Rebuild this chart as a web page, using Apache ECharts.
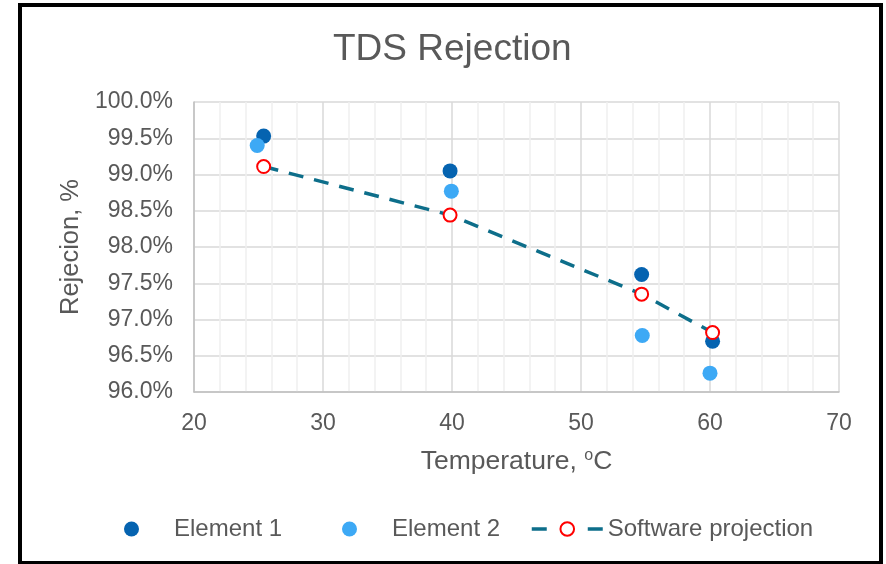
<!DOCTYPE html>
<html>
<head>
<meta charset="utf-8">
<script src="https://cdn.jsdelivr.net/npm/echarts@6/dist/echarts.min.js"></script>
<style>
html,body{margin:0;padding:0;background:#fff;}
#chart{width:886px;height:564px;}
</style>
</head>
<body>
<div id="chart"></div>
<script>
// Data
const element1Temp = [25.4, 39.85, 54.7, 60.2];
const element1Rej  = [99.53, 99.05, 97.62, 96.70];
const element2Temp = [24.9, 39.95, 54.75, 60.0];
const element2Rej  = [99.40, 98.77, 96.78, 96.26];
const softTemp     = [25.4, 39.85, 54.7, 60.2];
const softRej      = [99.11, 98.44, 97.35, 96.82];
const seriesNames  = ['Element 1', 'Element 2', 'Software projection'];

const pairs = (xs, ys) => xs.map((x, i) => [x, ys[i]]);

const txt = '#595959';
const chart = echarts.init(document.getElementById('chart'));
chart.setOption({
  animation: false,
  backgroundColor: '#fff',
  title: {
    text: 'TDS Rejection',
    left: 328,
    top: 26,
    textStyle: { color: txt, fontSize: 37, fontWeight: 'normal', fontFamily: 'Liberation Sans' }
  },
  grid: { left: 194, right: 47, top: 102, bottom: 172 },
  xAxis: {
    type: 'value',
    min: 20, max: 70, interval: 10,
    name: 'Temperature, {s|o}C',
    nameLocation: 'middle',
    nameGap: 56,
    nameTextStyle: {
      color: txt, fontSize: 26.5, fontFamily: 'Liberation Sans',
      rich: { s: { fontSize: 16, color: txt, fontFamily: 'Liberation Sans', verticalAlign: 'top', padding: [0, 0, 9, 0] } }
    },
    axisLine: { show: true, lineStyle: { color: '#BFBFBF', width: 1.5 } },
    axisTick: { show: false },
    axisLabel: { color: txt, fontSize: 23, fontFamily: 'Liberation Sans', margin: 20 },
    splitLine: { show: true, lineStyle: { color: '#D9D9D9', width: 1.5 } },
    minorTick: { show: false, splitNumber: 5 },
    minorSplitLine: { show: true, lineStyle: { color: '#F0F0F0', width: 1.5 } }
  },
  yAxis: {
    type: 'value',
    min: 96, max: 100, interval: 0.5,
    name: 'Rejecion, %',
    nameLocation: 'middle',
    nameGap: 110,
    nameTextStyle: { color: txt, fontSize: 25.5, fontFamily: 'Liberation Sans' },
    axisLine: { show: true, lineStyle: { color: '#BFBFBF', width: 1.5 } },
    axisTick: { show: false },
    axisLabel: {
      color: txt, fontSize: 23, fontFamily: 'Liberation Sans', margin: 21,
      formatter: v => v.toFixed(1) + '%'
    },
    splitLine: { show: true, lineStyle: { color: '#D9D9D9', width: 1.5 } }
  },
  legend: [
    {
      data: [{ name: seriesNames[0], icon: 'circle' }],
      left: 119, top: 512,
      itemWidth: 75, itemHeight: 15,
      symbolKeepAspect: true,
      textStyle: { color: txt, fontSize: 24, fontFamily: 'Liberation Sans' }
    },
    {
      data: [{ name: seriesNames[1], icon: 'circle' }],
      left: 337, top: 512,
      itemWidth: 75, itemHeight: 15,
      symbolKeepAspect: true,
      textStyle: { color: txt, fontSize: 24, fontFamily: 'Liberation Sans' }
    },
    {
      data: [seriesNames[2]],
      left: 525, top: 512,
      itemWidth: 71, itemHeight: 17,
      lineStyle: { type: [15, 41], width: 3.5, cap: 'butt' },
      textStyle: { color: txt, fontSize: 24, fontFamily: 'Liberation Sans' }
    }
  ],
  graphic: [{
    type: 'rect',
    shape: { x: 20, y: 5, width: 861, height: 558 },
    style: { fill: 'none', stroke: '#000', lineWidth: 4 },
    silent: true, z: 100
  }],
  series: [
    {
      name: seriesNames[0],
      type: 'scatter',
      data: pairs(element1Temp, element1Rej),
      symbol: 'circle', symbolSize: 15,
      itemStyle: { color: '#0563B0', opacity: 1 },
      z: 2
    },
    {
      name: seriesNames[1],
      type: 'scatter',
      data: pairs(element2Temp, element2Rej),
      symbol: 'circle', symbolSize: 15,
      itemStyle: { color: '#3DA9F5', opacity: 1 },
      z: 3
    },
    {
      name: seriesNames[2],
      type: 'line',
      data: pairs(softTemp, softRej),
      symbol: 'circle', symbolSize: 13,
      showSymbol: true,
      lineStyle: { color: '#0D6E8A', width: 3.5, type: [15, 11], cap: 'butt' },
      itemStyle: { color: '#fff', borderColor: '#FF0000', borderWidth: 2 },
      z: 4
    }
  ]
});
</script>
</body>
</html>
